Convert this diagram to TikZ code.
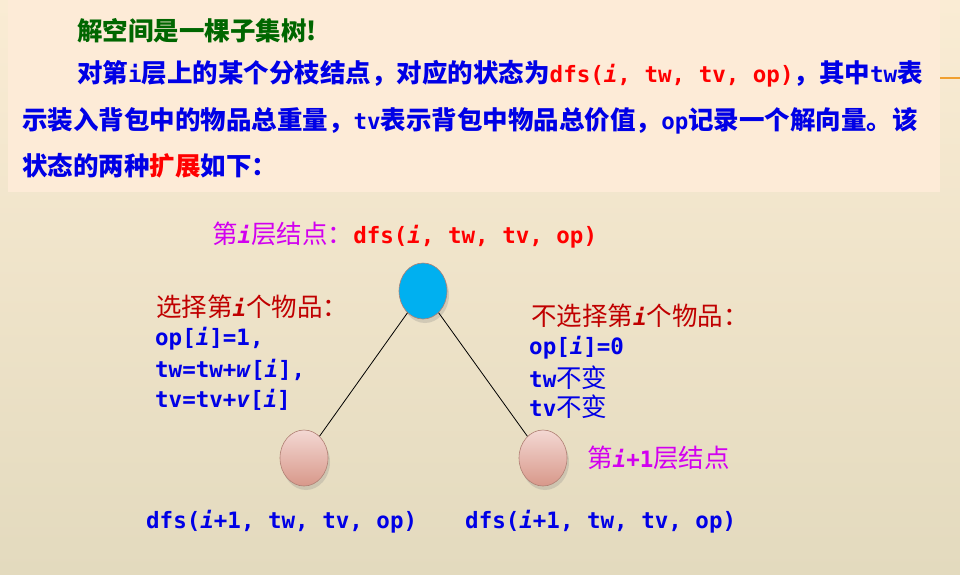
\documentclass[tikz,border=0pt]{standalone}
\usepackage{fontspec}
\usetikzlibrary{shapes.geometric,shadows}
\newfontfamily\cjkfont{Noto Sans CJK SC}
\newfontfamily\codefont{DejaVu Sans Mono}
\definecolor{bgtop}{RGB}{250,236,212}
\definecolor{bgmid}{RGB}{243,234,214}
\definecolor{bgbot}{RGB}{227,218,190}
\definecolor{panel}{RGB}{253,235,215}
\definecolor{titlegreen}{RGB}{0,102,0}
\definecolor{textblue}{RGB}{0,0,230}
\definecolor{textred}{RGB}{255,0,0}
\definecolor{darkred}{RGB}{192,0,0}
\definecolor{levelpink}{RGB}{210,0,240}
\definecolor{rootblue}{RGB}{0,176,240}
\definecolor{kidtop}{RGB}{243,216,211}
\definecolor{kidbot}{RGB}{216,152,138}
\definecolor{rim}{RGB}{176,128,116}
\definecolor{tick}{RGB}{240,160,48}
\newcommand{\cd}[1]{{\codefont\bfseries\fontsize{22.5}{27}\selectfont #1}}
\newcommand{\ii}{{\codefont\bfseries\itshape\fontsize{22.5}{27}\selectfont i}}
\begin{document}
\begin{tikzpicture}[x=1pt,y=-1pt,
    txt/.style={inner sep=0pt,anchor=west,font=\cjkfont\fontsize{25.5}{30}\selectfont},
    para/.style={txt,font=\cjkfont\bfseries\fontsize{25.5}{30}\selectfont,text=textblue},
    code/.style={txt,text=textblue},
    treenode/.style={ellipse,minimum width=48pt,minimum height=56pt,inner sep=0pt,
      draw=rim,line width=0.6pt,
      drop shadow={opacity=0.25,shadow xshift=2pt,shadow yshift=-4pt}},
    rootnode/.style={treenode,fill=rootblue},
    kidnode/.style={treenode,top color=kidtop,bottom color=kidbot}]
  \useasboundingbox (0,0) rectangle (960,574);
  % background
  \shade[top color=bgtop,middle color=bgmid,bottom color=bgbot] (0,0) rectangle (960,574);
  \fill[panel] (8,0) rectangle (940,192);
  \draw[tick,line width=1.2pt] (940,78) -- (960,78);
  % text above
  \node[para,text=titlegreen] (title) at (77,31) {解空间是一棵子集树!};
  \node[para] (line1) at (77,74) {对第\cd{i}层上的某个分枝结点，对应的状态为\textcolor{textred}{\cd{dfs(\ii, tw, tv, op)}}，其中\cd{tw}表};
  \node[para] (line2) at (22,121) {示装入背包中的物品总重量，\cd{tv}表示背包中物品总价值，\cd{op}记录一个解向量。该};
  \node[para] (line3) at (22,166) {状态的两种\textcolor{textred}{扩展}如下：};
  % tree
  \node[rootnode] (root) at (423,291) {};
  \node[kidnode] (left) at (304,458) {};
  \node[kidnode] (right) at (543,458) {};
  \draw[line width=0.8pt] (root) -- (left);
  \draw[line width=0.8pt] (root) -- (right);
  % labels
  \node[txt,text=levelpink] (rootlab) at (212,235) {第\ii 层结点：\textcolor{textred}{\cd{dfs(\ii, tw, tv, op)}}};
  \node[txt,text=darkred] (pickhead) at (156,307) {选择第\ii 个物品：};
  \node[code] (pick1) at (155,339) {\cd{op[\ii]=1,}};
  \node[code] (pick2) at (155,370) {\cd{tw=tw+\textit{w}[\ii],}};
  \node[code] (pick3) at (155,400) {\cd{tv=tv+\textit{v}[\ii]}};
  \node[txt,text=darkred] (skiphead) at (531,316) {不选择第\ii 个物品：};
  \node[code] (skip1) at (529,348) {\cd{op[\ii]=0}};
  \node[code] (skip2) at (529,378) {\cd{tw}不变};
  \node[code] (skip3) at (529,407) {\cd{tv}不变};
  \node[txt,text=levelpink] (kidlab) at (587,458) {第\ii\cd{+1}层结点};
  \node[code] (leftlab) at (146,522) {\cd{dfs(\ii+1, tw, tv, op)}};
  \node[code] (rightlab) at (465,522) {\cd{dfs(\ii+1, tw, tv, op)}};
\end{tikzpicture}
\end{document}
